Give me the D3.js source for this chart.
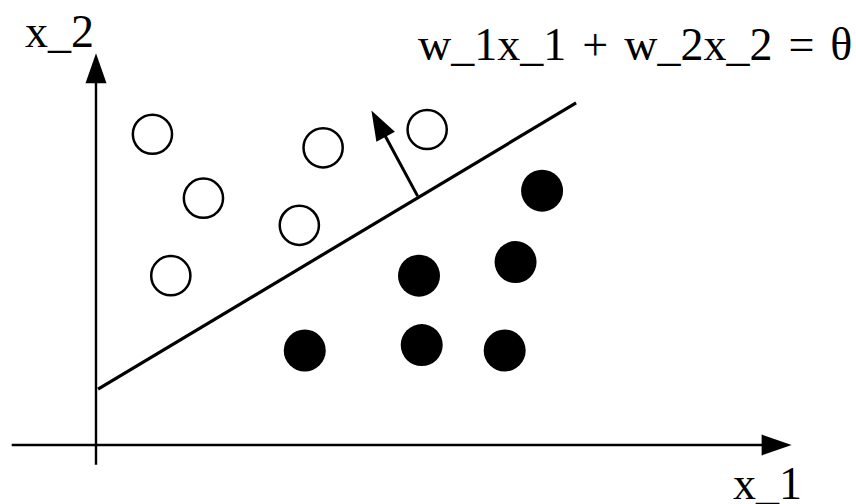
<!DOCTYPE html>
<html>
<head>
<meta charset="utf-8">
<script src="https://cdn.jsdelivr.net/npm/d3@7"></script>
<style>
  html, body { margin: 0; padding: 0; background: #fff; }
</style>
</head>
<body>
<div id="graphicContainer"></div>
<script>

// class A (open circles) and class B (filled circles), in data units
const openPoints = [
  [0.83, 4.57], [1.58, 3.63], [1.10, 2.49],
  [3.34, 4.37], [2.99, 3.23], [4.87, 4.64]
]

const filledPoints = [
  [6.56, 3.74], [6.17, 2.69], [4.75, 2.49],
  [3.07, 1.39], [4.79, 1.47], [6.01, 1.39]
]

// separating line and its normal vector
const boundary = [[0.03, 0.82], [7.06, 5.03]]
const normal = [[4.73, 3.66], [4.05, 4.92]]

// axis extents
const xAxisExtent = [[-1.24, 0], [10.23, 0]]
const yAxisExtent = [[0, -0.29], [0, 5.76]]

const labels = {
  x: "x_1",
  y: "x_2",
  equation: "w_1x_1 + w_2x_2 = \u03b8"
}

const width = 856
const height = 504

const svg = d3.select("#graphicContainer").append("svg")
  .attr("width", width)
  .attr("height", height)

const x = d3.scaleLinear()
  .domain([0, 10])
  .range([96, 776])

const y = d3.scaleLinear()
  .domain([0, 6])
  .range([445, 37])

// line that stops at the base of an arrowhead, then the filled head
const arrow = (from, to, strokeWidth, headLen = 30, headHalf = 10.5) => {
  const x1 = x(from[0]), y1 = y(from[1])
  const x2 = x(to[0]), y2 = y(to[1])
  const len = Math.hypot(x2 - x1, y2 - y1)
  const ux = (x2 - x1) / len, uy = (y2 - y1) / len
  const bx = x2 - ux * headLen, by = y2 - uy * headLen

  svg.append("line")
    .attr("x1", x1).attr("y1", y1)
    .attr("x2", bx + ux * 2).attr("y2", by + uy * 2)
    .attr("stroke", "#000")
    .attr("stroke-width", strokeWidth)

  svg.append("path")
    .attr("d", `M${x2},${y2}L${bx - uy * headHalf},${by + ux * headHalf}L${bx + uy * headHalf},${by - ux * headHalf}Z`)
    .attr("fill", "#000")
}

arrow(xAxisExtent[0], xAxisExtent[1], 2.4)
arrow(yAxisExtent[0], yAxisExtent[1], 2.4)

svg.append("line")
  .attr("x1", x(boundary[0][0])).attr("y1", y(boundary[0][1]))
  .attr("x2", x(boundary[1][0])).attr("y2", y(boundary[1][1]))
  .attr("stroke", "#000")
  .attr("stroke-width", 3.2)

arrow(normal[0], normal[1], 3)

svg.append("g")
  .selectAll("circle")
  .data(openPoints)
  .enter()
  .append("circle")
  .attr("cx", d => x(d[0]))
  .attr("cy", d => y(d[1]))
  .attr("r", 19.6)
  .attr("fill", "#fff")
  .attr("stroke", "#000")
  .attr("stroke-width", 2.5)

svg.append("g")
  .selectAll("circle")
  .data(filledPoints)
  .enter()
  .append("circle")
  .attr("cx", d => x(d[0]))
  .attr("cy", d => y(d[1]))
  .attr("r", 21)
  .attr("fill", "#000")

const label = (px, py, str) => svg.append("text")
  .attr("x", px)
  .attr("y", py)
  .style("font-family", "'Liberation Serif', 'Times New Roman', serif")
  .style("font-size", "46px")
  .attr("fill", "#000")
  .text(str)

label(25, 47, labels.y)
label(733, 499, labels.x)
label(418, 60, labels.equation)
  .style("word-spacing", "4.5px")

</script>
</body>
</html>
